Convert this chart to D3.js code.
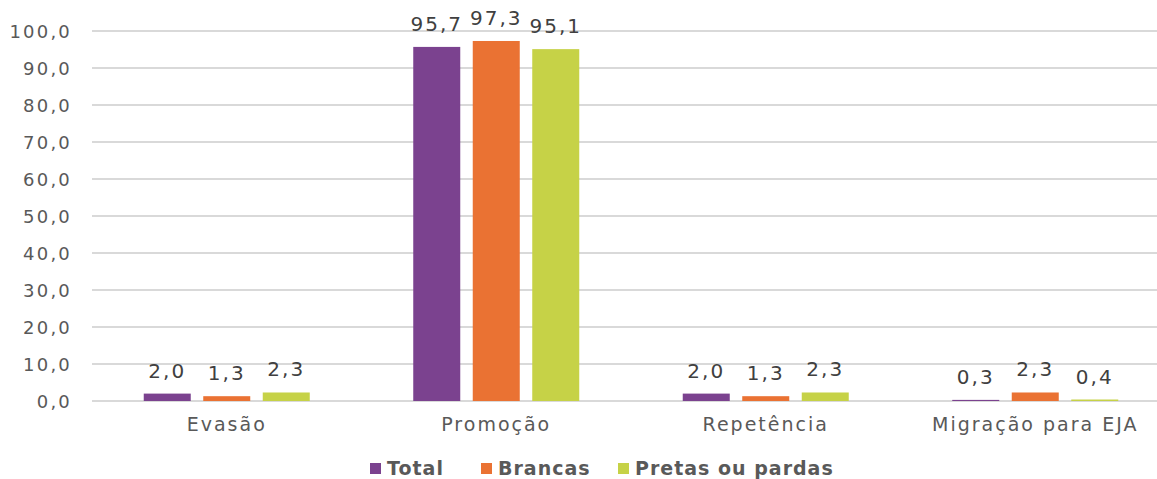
<!DOCTYPE html>
<html>
<head>
<meta charset="utf-8">
<script src="https://cdn.jsdelivr.net/npm/d3@7"></script>
<style>
  html, body { margin: 0; padding: 0; background: #fff; }
  svg text { font-family: "DejaVu Sans", "Liberation Sans", sans-serif; }
</style>
</head>
<body>
<svg id="chart" width="1157" height="479"></svg>
<script>
// Fluxo escolar por cor/raça (%)
const categories = ["Evasão", "Promoção", "Repetência", "Migração para EJA"];
const seriesNames = ["Total", "Brancas", "Pretas ou pardas"];
const total   = [2.0, 95.7, 2.0, 0.3];
const brancas = [1.3, 97.3, 1.3, 2.3];
const pretas  = [2.3, 95.1, 2.3, 0.4];
const yTicks  = [0, 10, 20, 30, 40, 50, 60, 70, 80, 90, 100];
const colors  = ["#7b428f", "#ea7233", "#c6d247"];

const seriesValues = [total, brancas, pretas];
const fmt = v => v.toFixed(1).replace(".", ",");

const svg = d3.select("#chart");
const W = 1157;
const plot = { left: 92, right: 1170, top: 31, bottom: 401 };

const x0 = d3.scaleBand().domain(categories).range([plot.left, plot.right]);
const x1 = d3.scaleBand().domain(seriesNames).range([-89.25, 89.25])
  .paddingInner(0.21).paddingOuter(0.105);
const y = d3.scaleLinear().domain([0, 100]).range([plot.bottom, plot.top]);

// horizontal gridlines
svg.append("g").selectAll("line").data(yTicks).join("line")
  .attr("x1", plot.left).attr("x2", W)
  .attr("y1", d => y(d)).attr("y2", d => y(d))
  .attr("stroke", "#d9d9d9").attr("stroke-width", 2);

// y axis labels
const yAxis = d3.axisLeft(y).tickValues(yTicks).tickFormat(fmt).tickSize(0).tickPadding(0);
const gy = svg.append("g").attr("transform", `translate(${plot.left - 20},0)`).call(yAxis);
gy.select(".domain").remove();
gy.selectAll("text")
  .attr("fill", "#595959").attr("font-size", 18).attr("letter-spacing", 2.2)
  .attr("font-family", "DejaVu Sans, sans-serif").attr("dy", "0.36em");

// bars and value labels
const groups = svg.append("g").selectAll("g").data(categories).join("g")
  .attr("transform", d => `translate(${x0(d) + x0.bandwidth() / 2},0)`);

groups.each(function(cat, ci) {
  const g = d3.select(this);
  const rows = seriesNames.map((s, si) => ({ s, si, v: seriesValues[si][ci] }));
  g.selectAll("rect").data(rows).join("rect")
    .attr("x", d => x1(d.s))
    .attr("width", x1.bandwidth())
    .attr("y", d => y(d.v))
    .attr("height", d => y(0) - y(d.v))
    .attr("fill", d => colors[d.si]);
  g.selectAll("text.val").data(rows).join("text")
    .attr("class", "val")
    .attr("x", d => x1(d.s) + x1.bandwidth() / 2)
    .attr("y", d => y(d.v) - 16)
    .attr("text-anchor", "middle")
    .attr("fill", "#404040").attr("font-size", 20).attr("letter-spacing", 2)
    .text(d => fmt(d.v));
});

// category axis
const xAxis = d3.axisBottom(x0).tickSize(0).tickPadding(0);
const gx = svg.append("g").attr("transform", `translate(0,${plot.bottom})`).call(xAxis);
gx.select(".domain").remove();
gx.selectAll("text")
  .attr("fill", "#595959").attr("font-size", 19).attr("letter-spacing", 2)
  .attr("font-family", "DejaVu Sans, sans-serif")
  .attr("dy", 0).attr("y", 30);

// legend
const legendX = [370, 481, 618];
const legend = svg.append("g").selectAll("g").data(seriesNames).join("g")
  .attr("transform", (d, i) => `translate(${legendX[i]},0)`);
legend.append("rect").attr("x", 0).attr("y", 463).attr("width", 11).attr("height", 11)
  .attr("fill", (d, i) => colors[i]);
legend.append("text").attr("x", 17).attr("y", 475)
  .attr("fill", "#595959").attr("font-size", 19).attr("font-weight", "bold")
  .attr("letter-spacing", 1)
  .text(d => d);
</script>
</body>
</html>
